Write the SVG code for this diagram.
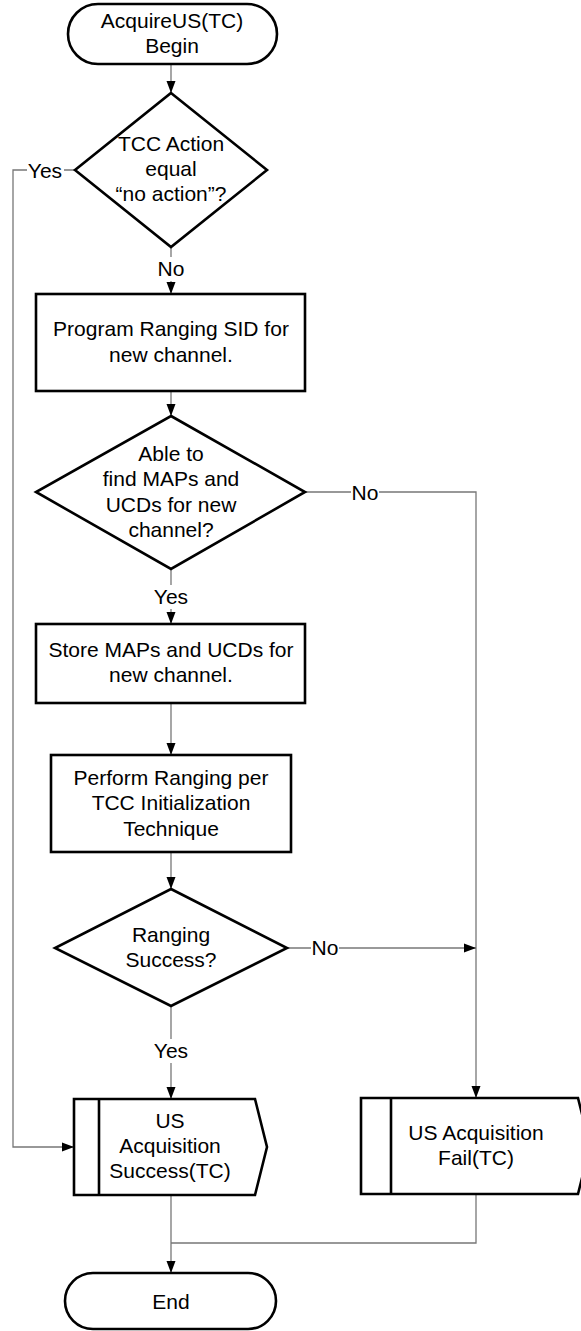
<svg xmlns="http://www.w3.org/2000/svg" width="581" height="1331" viewBox="0 0 581 1331">
<style>
.shape{fill:#fff;stroke:#000;stroke-width:2.6;stroke-linejoin:miter}
.t{font-family:"Liberation Sans",Arial,sans-serif;font-size:21px;fill:#000;text-anchor:middle}
.c{fill:none;stroke:#777;stroke-width:1.3}
.lbl{fill:#fff;stroke:none}
</style>
<defs>
<marker id="arr" markerUnits="userSpaceOnUse" markerWidth="12" markerHeight="14" viewBox="0 0 12 14" refX="12" refY="7" orient="auto">
<path d="M0,2.5 L12,7 L0,11.5 Z" fill="#000"/>
</marker>
</defs>
<rect width="581" height="1331" fill="#fff"/>
<g id="connectors">
<path class="c" d="M171,64 L171,93" marker-end="url(#arr)"/>
<path class="c" d="M171,247 L171,294" marker-end="url(#arr)"/>
<path class="c" d="M75,170 L13,170 L13,1147 L74,1147" marker-end="url(#arr)"/>
<path class="c" d="M171,391 L171,416" marker-end="url(#arr)"/>
<path class="c" d="M305,492 L476,492 L476,1098" marker-end="url(#arr)"/>
<path class="c" d="M171,569 L171,624" marker-end="url(#arr)"/>
<path class="c" d="M171,703 L171,755" marker-end="url(#arr)"/>
<path class="c" d="M171,852 L171,889" marker-end="url(#arr)"/>
<path class="c" d="M287,948 L476,948" marker-end="url(#arr)"/>
<path class="c" d="M171,1006 L171,1099" marker-end="url(#arr)"/>
<path class="c" d="M171,1195 L171,1273" marker-end="url(#arr)"/>
<path class="c" d="M476,1194 L476,1243 L171,1243"/>
<rect class="lbl" x="156" y="257" width="30" height="24"/>
<text class="t" x="171" y="276">No</text>
<rect class="lbl" x="27" y="158" width="37" height="24"/>
<text class="t" x="45" y="178">Yes</text>
<rect class="lbl" x="351" y="481" width="28" height="24"/>
<text class="t" x="365" y="500">No</text>
<rect class="lbl" x="153" y="585" width="37" height="24"/>
<text class="t" x="171" y="604">Yes</text>
<rect class="lbl" x="311" y="936" width="28" height="24"/>
<text class="t" x="325" y="955">No</text>
<rect class="lbl" x="153" y="1039" width="37" height="24"/>
<text class="t" x="171" y="1058">Yes</text>
</g>
<g id="begin">
<rect class="shape" x="68" y="4" width="209" height="60" rx="30" ry="30"/>
<text class="t" x="172" y="28">AcquireUS(TC)</text>
<text class="t" x="172" y="53">Begin</text>
</g>
<g id="decision-tcc">
<polygon class="shape" points="171,93 267,170 171,247 75,170"/>
<text class="t" x="171" y="151">TCC Action</text>
<text class="t" x="171" y="176">equal</text>
<text class="t" x="171" y="201">“no action”?</text>
</g>
<g id="program-sid">
<rect class="shape" x="36" y="294" width="269" height="97"/>
<text class="t" x="171" y="336">Program Ranging SID for</text>
<text class="t" x="171" y="362">new channel.</text>
</g>
<g id="decision-maps">
<polygon class="shape" points="171,416 305,492 171,569 36,492"/>
<text class="t" x="171" y="461">Able to</text>
<text class="t" x="171" y="486">find MAPs and</text>
<text class="t" x="171" y="512">UCDs for new</text>
<text class="t" x="171" y="537">channel?</text>
</g>
<g id="store-maps">
<rect class="shape" x="36" y="624" width="269" height="79"/>
<text class="t" x="171" y="657">Store MAPs and UCDs for</text>
<text class="t" x="171" y="682">new channel.</text>
</g>
<g id="perform-ranging">
<rect class="shape" x="51" y="755" width="240" height="97"/>
<text class="t" x="171" y="785">Perform Ranging per</text>
<text class="t" x="171" y="810">TCC Initialization</text>
<text class="t" x="171" y="836">Technique</text>
</g>
<g id="decision-ranging">
<polygon class="shape" points="171,889 287,948 171,1006 55,948"/>
<text class="t" x="171" y="942">Ranging</text>
<text class="t" x="171" y="967">Success?</text>
</g>
<g id="us-success">
<path class="shape" d="M74,1099 L255,1099 L267,1147 L255,1195 L74,1195 Z"/>
<line x1="99" y1="1099" x2="99" y2="1195" stroke="#000" stroke-width="2.6"/>
<text class="t" x="170" y="1128">US</text>
<text class="t" x="170" y="1153">Acquisition</text>
<text class="t" x="170" y="1178">Success(TC)</text>
</g>
<g id="us-fail">
<path class="shape" d="M361,1098 L578,1098 L590,1146 L578,1194 L361,1194 Z"/>
<line x1="391" y1="1098" x2="391" y2="1194" stroke="#000" stroke-width="2.6"/>
<text class="t" x="476" y="1140">US Acquisition</text>
<text class="t" x="476" y="1165">Fail(TC)</text>
</g>
<g id="end">
<rect class="shape" x="65" y="1273" width="211" height="56" rx="28" ry="28"/>
<text class="t" x="171" y="1309">End</text>
</g>
</svg>
